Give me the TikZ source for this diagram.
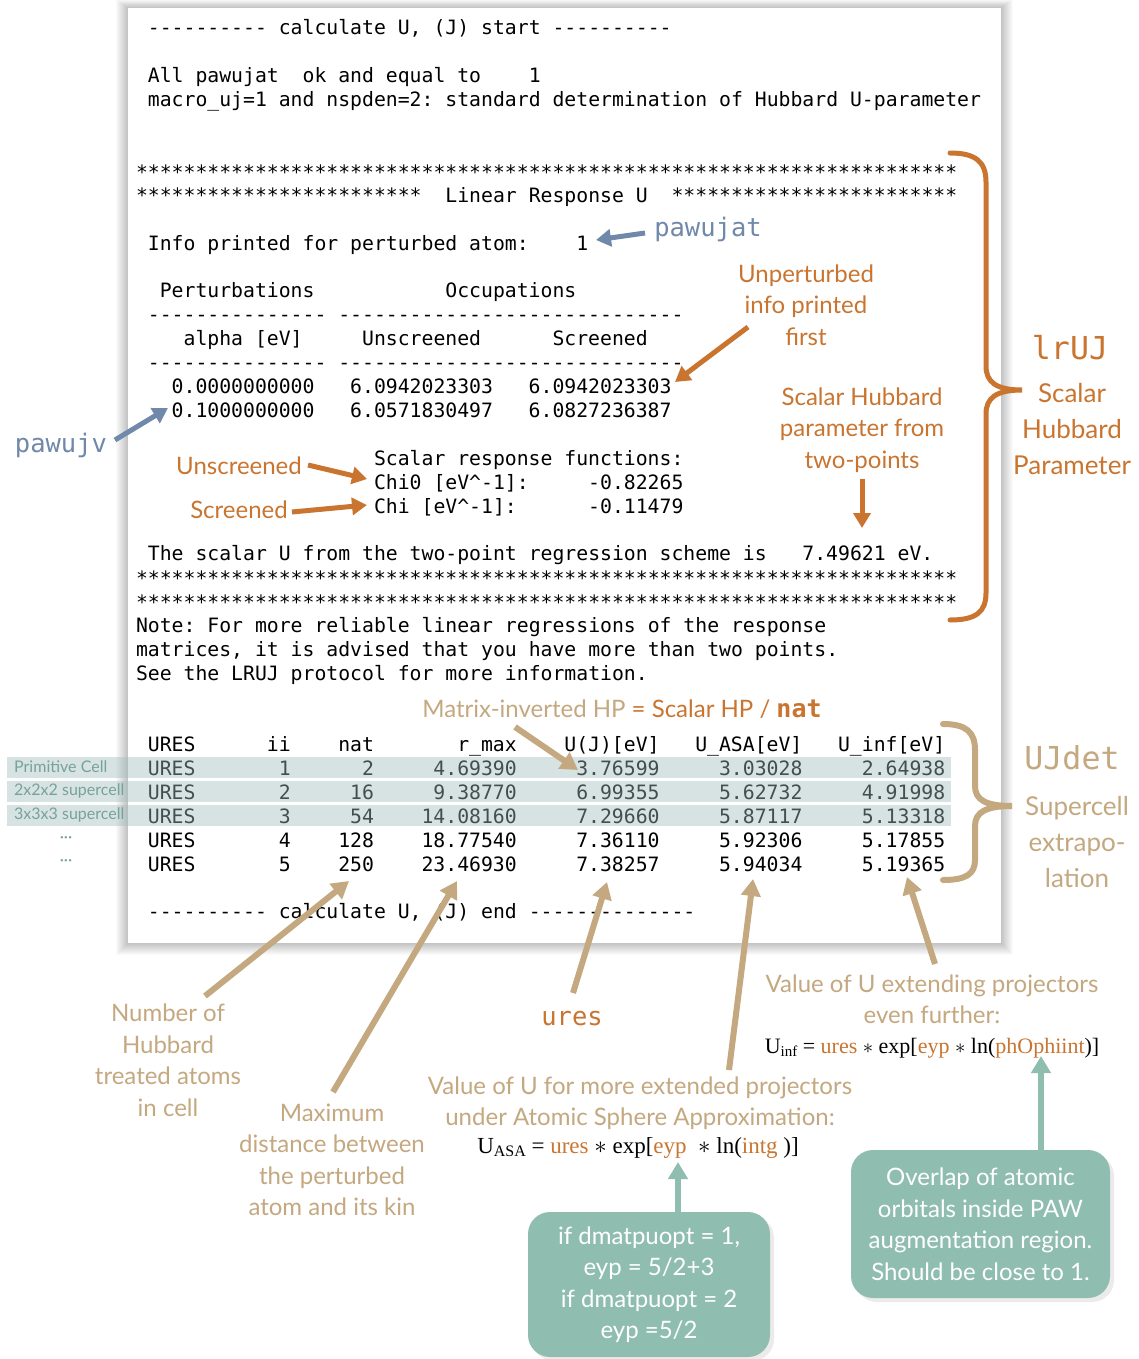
\documentclass[tikz,border=0pt]{standalone}
\usepackage{fontspec}
\setmainfont{Lato}
\newfontfamily\monofont{DejaVu Sans Mono}
\newfontfamily\formfont{Liberation Serif}
\usetikzlibrary{arrows.meta}
\definecolor{orng}{RGB}{201,117,48}
\definecolor{tanc}{RGB}{196,168,128}
\definecolor{bluegray}{RGB}{112,136,170}
\definecolor{boxgreen}{RGB}{143,189,176}
\definecolor{rowband}{RGB}{160,188,188}
\definecolor{rowlab}{RGB}{118,163,153}
\newcommand\sx{**********}
\newcommand\dx{----------}
\newcommand\ml[4]{\node[mono] (#1) at ({136+#2*11.9},#3) {#4};}
\newcommand\mr[4]{\node[mono,anchor=base east] (#1) at ({136+#2*11.9},#3) {#4};}
\newcommand\urow[8]{%
  \ml{#1a}{1}{#2}{URES}
  \mr{#1b}{13}{#2}{#3}
  \mr{#1c}{20}{#2}{#4}
  \mr{#1d}{32}{#2}{#5}
  \mr{#1e}{44}{#2}{#6}
  \mr{#1f}{56}{#2}{#7}
  \mr{#1g}{68}{#2}{#8}}
\begin{document}
\begin{tikzpicture}[x=1pt,y=-1pt,
  mono/.style={font=\monofont\fontsize{19.77}{24}\selectfont\frenchspacing, anchor=base west, inner sep=0pt, outer sep=0pt},
  monolab/.style={font=\monofont\fontsize{25.5}{30}\selectfont, inner sep=0pt},
  biglab/.style={font=\monofont\fontsize{31.6}{36}\selectfont, inner sep=0pt},
  lab/.style={font=\fontsize{24}{31.5}\selectfont, align=center, inner sep=0pt},
  sidelab/.style={font=\fontsize{26}{36}\selectfont, align=center, inner sep=0pt},
  rowlabel/.style={font=\fontsize{16}{18}\selectfont, text=rowlab, inner sep=0pt},
  formula/.style={font=\formfont\fontsize{23}{26}\selectfont, inner sep=0pt},
  gbox/.style={fill=boxgreen, rounded corners=22pt, text=white, align=center,
     font=\fontsize{24}{31.5}\selectfont, inner sep=0pt},
  barr/.style={draw=bluegray, line width=5pt, -{Triangle[length=15pt,width=17pt]}},
  oarr/.style={draw=orng, line width=5pt, -{Triangle[length=15pt,width=17pt]}},
  tarr/.style={draw=tanc, line width=6pt, -{Triangle[length=17pt,width=19pt]}},
  garr/.style={draw=boxgreen, line width=6pt, -{Triangle[length=17pt,width=19pt]}},
  brc/.style={line width=5pt, line cap=round}
]
\useasboundingbox (0,0) rectangle (1138,1359);
\fill[white] (0,0) rectangle (1138,1359);
% paper with shadow
\foreach \i in {1,...,12} {
  \fill[black,opacity=0.018] ({128-\i},{8-0.7*\i}) rectangle ({1001+\i},{943+\i});
}
\fill[white] (128,8) rectangle (1001,943);

% ---- text of the output ----
\ml{l1}{1}{35}{\dx{} calculate U, (J) start \dx}
\ml{l2}{1}{83}{All pawujat~~ok and equal to~~~~1}
\ml{l3}{1}{107}{macro\_uj=1 and nspden=2: standard determination of Hubbard U-parameter}
\ml{l4}{0}{179}{\sx\sx\sx\sx\sx\sx*********}
\ml{l5}{0}{203}{\sx\sx****~~Linear Response U~~\sx\sx****}
\ml{l6}{1}{250}{Info printed for perturbed atom:~~~~1}
\ml{l7a}{2}{297}{Perturbations}
\ml{l7b}{26}{297}{Occupations}
\ml{l8a}{1}{321}{\dx-----}
\ml{l8b}{17}{321}{\dx\dx---------}
\ml{l9a}{4}{345}{alpha [eV]}
\ml{l9b}{19}{345}{Unscreened}
\ml{l9c}{35}{345}{Screened}
\ml{l10a}{1}{369}{\dx-----}
\ml{l10b}{17}{369}{\dx\dx---------}
\ml{l11a}{3}{393}{0.0000000000}
\ml{l11b}{18}{393}{6.0942023303}
\ml{l11c}{33}{393}{6.0942023303}
\ml{l12a}{3}{417}{0.1000000000}
\ml{l12b}{18}{417}{6.0571830497}
\ml{l12c}{33}{417}{6.0827236387}
\ml{l13}{20}{465}{Scalar response functions:}
\ml{l14a}{20}{489}{Chi0 [eV\^{}-1]:}
\ml{l14b}{38}{489}{-0.82265}
\ml{l15a}{20}{513}{Chi [eV\^{}-1]:}
\ml{l15b}{38}{513}{-0.11479}
\ml{l16a}{1}{560}{The scalar U from the two-point regression scheme is}
\ml{l16b}{56}{560}{7.49621 eV.}
\ml{l17}{0}{585}{\sx\sx\sx\sx\sx\sx*********}
\ml{l18}{0}{609}{\sx\sx\sx\sx\sx\sx*********}
\ml{l19}{0}{632}{Note: For more reliable linear regressions of the response}
\ml{l20}{0}{656}{matrices, it is advised that you have more than two points.}
\ml{l21}{0}{680}{See the LRUJ protocol for more information.}
% table
\ml{h1}{1}{751}{URES}
\mr{h2}{13}{751}{ii}
\mr{h3}{20}{751}{nat}
\mr{h4}{32}{751}{r\_max}
\mr{h5}{44}{751}{U(J)[eV]}
\mr{h6}{56}{751}{U\_ASA[eV]}
\mr{h7}{68}{751}{U\_inf[eV]}
\urow{ra}{775}{1}{2}{4.69390}{3.76599}{3.03028}{2.64938}
\urow{rb}{799}{2}{16}{9.38770}{6.99355}{5.62732}{4.91998}
\urow{rc}{823}{3}{54}{14.08160}{7.29660}{5.87117}{5.13318}
\urow{rd}{847}{4}{128}{18.77540}{7.36110}{5.92306}{5.17855}
\urow{re}{871}{5}{250}{23.46930}{7.38257}{5.94034}{5.19365}
\ml{lend}{1}{918}{\dx{} calculate U, (J) end \dx----}

% row bands
\fill[rowband,opacity=0.42] (7,757) rectangle (951,778);
\fill[rowband,opacity=0.42] (7,781) rectangle (951,802);
\fill[rowband,opacity=0.42] (7,805) rectangle (951,826);
\node[rowlabel,anchor=west] (prim) at (14,767) {Primitive Cell};
\node[rowlabel,anchor=west] (sc2) at (14,791) {2x2x2 supercell};
\node[rowlabel,anchor=west] (sc3) at (14,815) {3x3x3 supercell};
\node[rowlabel] (dots1) at (66,840) {···};
\node[rowlabel] (dots2) at (66,863) {···};

% ---- blue labels ----
\node[monolab,text=bluegray] (pawujat) at (708,229) {pawujat};
\node[monolab,text=bluegray] (pawujv) at (61,445) {pawujv};
\coordinate (pjtail) at (645,233);
\coordinate (pjhead) at (596,240);
\coordinate (pvtail) at (115,440);
\coordinate (pvhead) at (168,408);
\draw[barr] (pjtail) -- (pjhead);
\draw[barr] (pvtail) -- (pvhead);

% ---- orange labels ----
\node[lab,text=orng] (unpert) at (806,305) {Unperturbed\\info printed\\first};
\node[lab,text=orng] (scalhub) at (862,430) {Scalar Hubbard\\parameter from\\two-points};
\node[lab,text=orng] (unscr) at (239,466) {Unscreened};
\node[lab,text=orng] (scr) at (239,510) {Screened};
\coordinate (uphead) at (675,382);
\coordinate (shhead) at (862,528);
\coordinate (unhead) at (367,479);
\coordinate (schead) at (367,505);
\draw[oarr] (748,327) -- (uphead);
\draw[oarr] (scalhub.south) ++(0,6) -- (shhead);
\draw[oarr] (unscr.east) ++(6,-1) -- (unhead);
\draw[oarr] (scr.east) ++(4,2) -- (schead);

% lrUJ brace
\draw[brc,orng] (950,153) .. controls (976,153) and (986,162) .. (986,182) -- (986,366)
  .. controls (986,382) and (996,390) .. (1022,390)
  .. controls (996,390) and (986,398) .. (986,414) -- (986,593)
  .. controls (986,612) and (976,620) .. (950,620);
\node[biglab,text=orng] (lruj) at (1070,348) {lrUJ};
\node[sidelab,text=orng] (lrujtxt) at (1072,429) {Scalar\\Hubbard\\Parameter};

% matrix inverted
\node[lab] (matinv) at (622,709) {\textcolor{tanc}{Matrix-inverted HP} \textcolor{orng}{= Scalar HP / {\monofont\bfseries\fontsize{25}{30}\selectfont nat}}};
\coordinate (mihead) at (578,770);
\draw[tarr] (515,727) -- (mihead);

% UJdet brace
\draw[brc,tanc,line width=6pt] (943,724) .. controls (966,724) and (975,732) .. (975,750) -- (975,786)
  .. controls (975,800) and (986,806) .. (1012,806)
  .. controls (986,806) and (975,812) .. (975,826) -- (975,860)
  .. controls (975,874) and (966,880) .. (943,880);
\node[biglab,text=tanc] (ujdet) at (1072,758) {UJdet};
\node[sidelab,text=tanc] (ujdettxt) at (1077,842) {Supercell\\extrapo-\\lation};

% ---- bottom labels ----
\node[lab,text=tanc] (natlab) at (168,1060) {Number of\\Hubbard\\treated atoms\\in cell};
\node[lab,text=tanc] (rmaxlab) at (332,1160) {Maximum\\distance between\\the perturbed\\atom and its kin};
\node[monolab,text=orng] (ureslab) at (572,1019) {ures};
\node[lab,text=tanc] (asalab) at (640,1103) {Value of U for more extended projectors\\under Atomic Sphere Approximation:};
\node[formula] (asaform) at (638,1148) {U\raisebox{-0.3ex}{\fontsize{16}{16}\selectfont ASA} = \textcolor{orng}{ures} $\ast$ exp[\textcolor{orng}{eyp}~~$\ast$ ln(\textcolor{orng}{intg}~)]};
\node[lab,text=tanc] (inflab) at (932,999) {Value of U extending projectors\\even further:};
\node[formula,font=\formfont\fontsize{22}{26}\selectfont] (infform) at (932,1048) {U\raisebox{-0.3ex}{\fontsize{15}{15}\selectfont inf} = \textcolor{orng}{ures} $\ast$ exp[\textcolor{orng}{eyp} $\ast$ ln(\textcolor{orng}{phOphiint})]};

\coordinate (nattail) at (205,996);
\coordinate (nathead) at (349,881);
\coordinate (rmtail) at (333,1092);
\coordinate (rmhead) at (457,881);
\coordinate (urtail) at (573,993);
\coordinate (urhead) at (607,882);
\coordinate (astail) at (729,1070);
\coordinate (ashead) at (753,879);
\coordinate (iftail) at (935,964);
\coordinate (ifhead) at (907,877);
\draw[tarr] (nattail) -- (nathead);
\draw[tarr] (rmtail) -- (rmhead);
\draw[tarr] (urtail) -- (urhead);
\draw[tarr] (astail) -- (ashead);
\draw[tarr] (iftail) -- (ifhead);

% ---- green boxes ----
\fill[black,opacity=0.08,rounded corners=22pt] (532,1216) rectangle (774,1361);
\fill[black,opacity=0.08,rounded corners=22pt] (855,1154) rectangle (1114,1302);
\node[gbox,minimum width=242pt,minimum height=145pt] (eypbox) at (649,1284.5)
  {if dmatpuopt = 1,\\eyp = 5/2+3\\if dmatpuopt = 2\\eyp =5/2};
\node[gbox,minimum width=259pt,minimum height=148pt] (ovbox) at (980.5,1224)
  {Overlap of atomic\\orbitals inside PAW\\augmentation region.\\Should be close to 1.};
\coordinate (eyphead) at (678,1162);
\coordinate (ovhead) at (1041,1056);
\draw[garr] (eypbox.north -| eyphead) -- (eyphead);
\draw[garr] (ovbox.north -| ovhead) -- (ovhead);
\end{tikzpicture}
\end{document}
